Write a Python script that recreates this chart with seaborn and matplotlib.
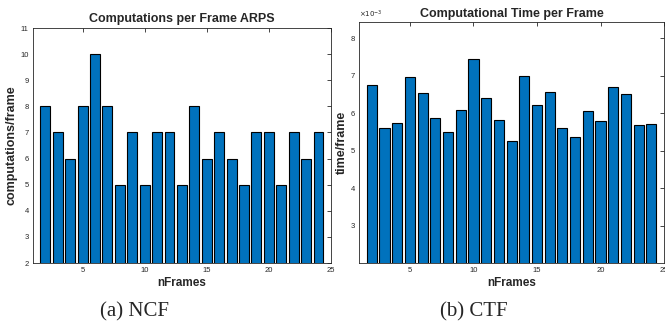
import numpy as np
import pandas as pd
import seaborn as sns
import matplotlib.pyplot as plt

frames = list(range(2, 25))
computations = [8, 7, 6, 8, 10, 8, 5, 7, 5, 7, 7, 5, 8, 6, 7, 6, 5, 7, 7, 5, 7, 6, 7]
# computational time per frame, in units of 1e-3
comp_time = [6.75, 5.60, 5.75, 6.97, 6.55, 5.87, 5.50, 6.08, 7.45, 6.40, 5.82, 5.27,
             7.00, 6.22, 6.58, 5.60, 5.37, 6.07, 5.80, 6.70, 6.52, 5.70, 5.72]

BAR_COLOR = "#0072BD"
GRAY = "#262626"

sns.set_style("white")
plt.rcParams["font.family"] = ["Liberation Sans", "DejaVu Sans"]


def style_axis(ax, ylim, yticks, title, ylabel):
    ax.set_xlim(1, 25)
    ax.set_ylim(*ylim)
    ax.set_xticks([5, 10, 15, 20, 25])
    ax.set_yticks(yticks)
    ax.set_xticklabels(["5", "10", "15", "20", "25"])
    ax.tick_params(direction="in", length=3, width=0.6, labelsize=5.5,
                   colors=GRAY, top=True, right=True, pad=3)
    for s in ax.spines.values():
        s.set_visible(True)
        s.set_color(GRAY)
        s.set_linewidth(0.6)
    ax.set_title(title, fontsize=9, fontweight="bold", pad=4)
    ax.set_xlabel("nFrames", fontsize=8.5, fontweight="bold", labelpad=2)
    ax.set_ylabel(ylabel, fontsize=9, fontweight="bold", labelpad=2)
    for lbl in ax.get_xticklabels():
        lbl.set_clip_on(False)


fig = plt.figure(figsize=(6.65, 3.31), dpi=100)
ax1 = fig.add_axes([0.0496, 0.2054, 0.448, 0.71])
ax2 = fig.add_axes([0.540, 0.2045, 0.4586, 0.728])

df1 = pd.DataFrame({"frame": frames, "value": computations})
sns.barplot(data=df1, x="frame", y="value", native_scale=True, width=0.8,
            color=BAR_COLOR, saturation=1, edgecolor="black", linewidth=0.8, ax=ax1)
style_axis(ax1, (2, 11), range(2, 12), "Computations per Frame ARPS",
           "computations/frame")

df2 = pd.DataFrame({"frame": frames, "value": comp_time})
sns.barplot(data=df2, x="frame", y="value", native_scale=True, width=0.8,
            color=BAR_COLOR, saturation=1, edgecolor="black", linewidth=0.8, ax=ax2)
style_axis(ax2, (2, 8.43), range(3, 9), "Computational Time per Frame", "time/frame")
ax2.text(0.0, 1.01, r"$\times10^{-3}$", transform=ax2.transAxes, fontsize=5,
         color=GRAY, ha="left", va="bottom")

fig.text(0.203, 0.045, "(a) NCF", fontsize=15, family=["Liberation Serif"], ha="center")
fig.text(0.712, 0.045, "(b) CTF", fontsize=15, family=["Liberation Serif"], ha="center")

fig.savefig("out.png", dpi=100)
